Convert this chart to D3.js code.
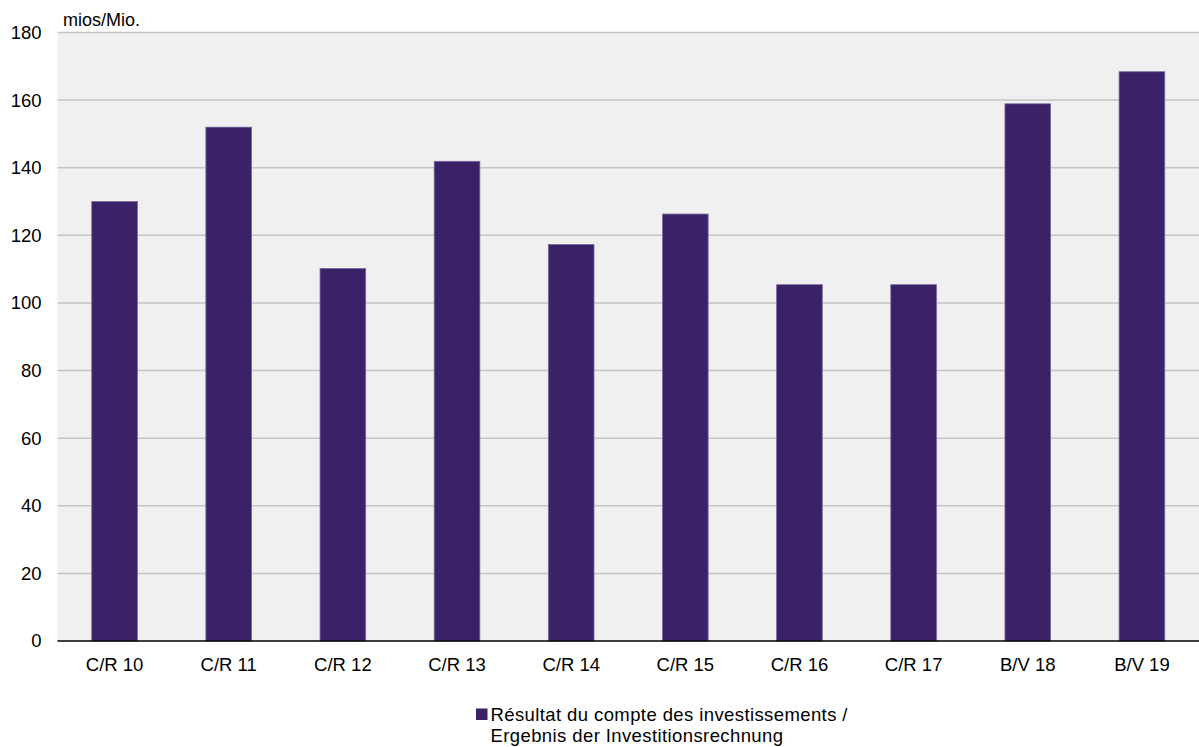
<!DOCTYPE html>
<html>
<head>
<meta charset="utf-8">
<script src="https://cdn.jsdelivr.net/npm/d3@7"></script>
<style>
  html, body { margin: 0; padding: 0; background: #ffffff; }
  svg { display: block; font-family: "Liberation Sans", Arial, sans-serif; }
</style>
</head>
<body>
<svg id="chart" width="1199" height="747"></svg>
<script>
// Investment account results, in millions
const categories = ["C/R 10", "C/R 11", "C/R 12", "C/R 13", "C/R 14", "C/R 15", "C/R 16", "C/R 17", "B/V 18", "B/V 19"];
const values = [130.0, 152.0, 110.2, 141.9, 117.3, 126.3, 105.4, 105.4, 158.9, 168.4];
const yTicks = [0, 20, 40, 60, 80, 100, 120, 140, 160, 180];
const unitLabel = "mios/Mio.";
const legendLines = ["Résultat du compte des investissements /", "Ergebnis der Investitionsrechnung"];

const svg = d3.select("#chart");
const margin = { top: 32.5, right: 0, bottom: 106, left: 57.5 };
const W = 1199, H = 747;
const innerW = W - margin.left - margin.right;
const innerH = H - margin.top - margin.bottom;

const x = d3.scaleBand().domain(categories).range([0, innerW]).paddingInner(0.6).paddingOuter(0.3);
const y = d3.scaleLinear().domain([0, 180]).range([innerH, 0]);

const g = svg.append("g").attr("transform", `translate(${margin.left},${margin.top})`);

// plot background
g.append("rect").attr("x", 0).attr("y", 0).attr("width", innerW).attr("height", innerH).attr("fill", "#f0f0f0");

// gridlines
g.append("g").selectAll("line").data(yTicks.filter(d => d > 0)).join("line")
  .attr("x1", 0).attr("x2", innerW)
  .attr("y1", d => y(d)).attr("y2", d => y(d))
  .attr("stroke", "#c4c4c4").attr("stroke-width", 1.5);

// bars
g.append("g").selectAll("rect").data(values).join("rect")
  .attr("x", (d, i) => x(categories[i]))
  .attr("y", d => y(d))
  .attr("width", x.bandwidth())
  .attr("height", d => innerH - y(d))
  .attr("fill", "#3b2167")
  .attr("stroke", "#7a68a0").attr("stroke-width", 0.8);

// y axis
const yAxis = g.append("g").call(d3.axisLeft(y).tickValues(yTicks).tickSize(0).tickPadding(16));
yAxis.select(".domain").remove();
yAxis.selectAll("text").attr("font-size", 18.5).attr("fill", "#000").attr("font-family", "Liberation Sans, Arial, sans-serif");

// x axis
const xAxis = g.append("g").attr("transform", `translate(0,${innerH})`)
  .call(d3.axisBottom(x).tickSize(0).tickPadding(17));
xAxis.select(".domain").attr("stroke", "#000").attr("stroke-width", 1.5).attr("d", `M0,0H${innerW}`);
xAxis.selectAll("text").attr("font-size", 18.5).attr("fill", "#000").attr("font-family", "Liberation Sans, Arial, sans-serif");

// unit label
svg.append("text").attr("x", 63).attr("y", 26).attr("font-size", 18).attr("fill", "#000")
  .text(unitLabel);

// legend
const lg = svg.append("g").attr("transform", "translate(476,708.5)");
lg.append("rect").attr("x", 0).attr("y", 0).attr("width", 11.5).attr("height", 11.5).attr("fill", "#3b2167");
lg.selectAll("text").data(legendLines).join("text")
  .attr("x", 14.5).attr("y", (d, i) => 12.5 + i * 20.5)
  .attr("font-size", 18.5).attr("fill", "#000").attr("letter-spacing", 0.4)
  .text(d => d);
</script>
</body>
</html>
